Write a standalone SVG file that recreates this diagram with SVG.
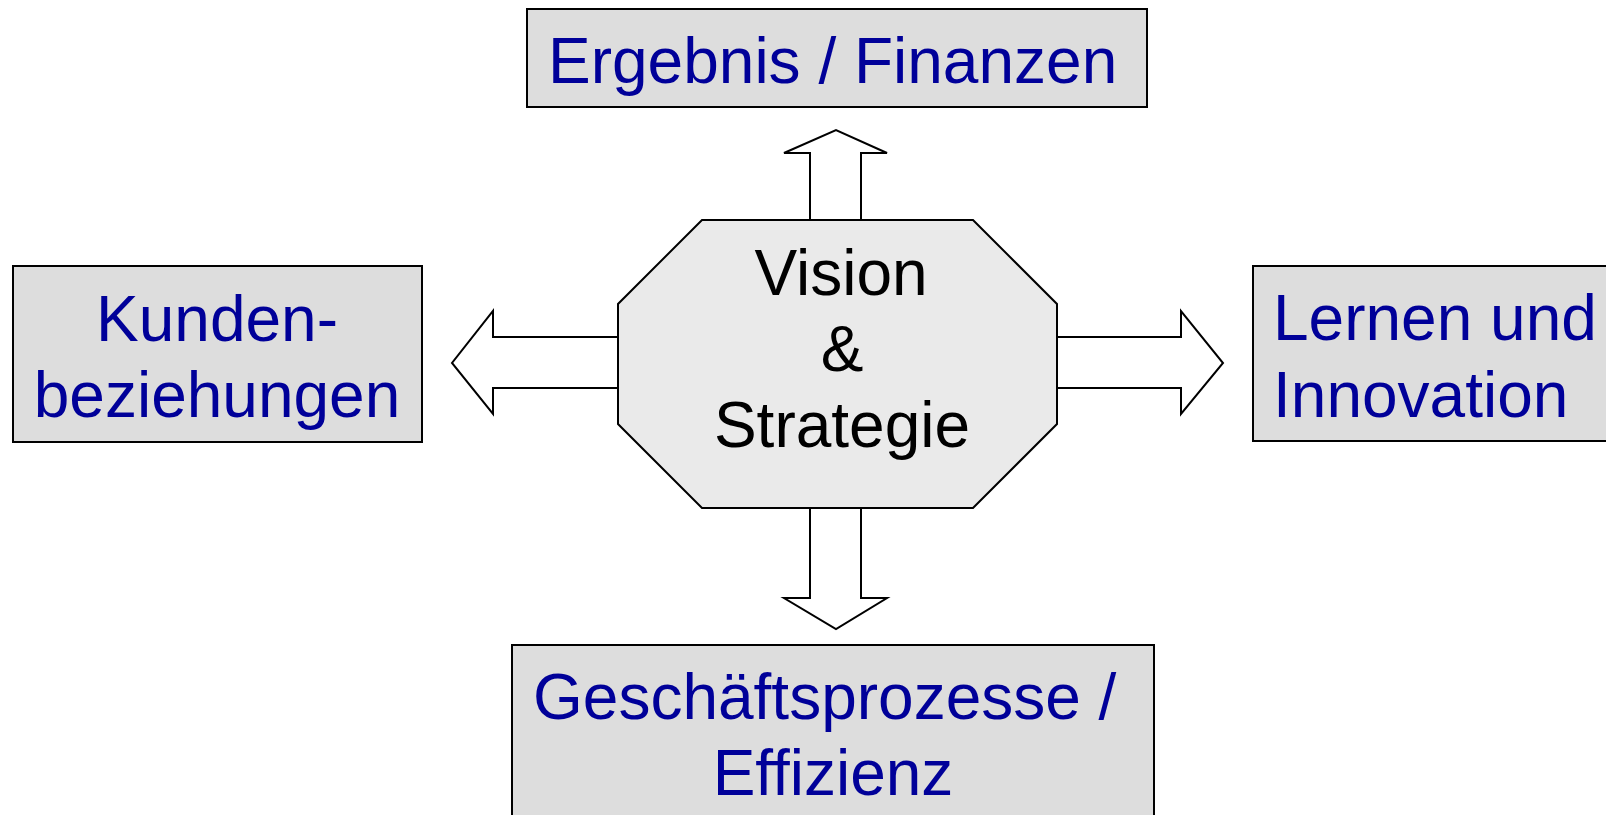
<svg xmlns="http://www.w3.org/2000/svg" width="1606" height="815" viewBox="0 0 1606 815">
<style>
.box{fill:#dddddd;stroke:#000;stroke-width:2}
.oct{fill:#eaeaea;stroke:#000;stroke-width:2}
.arr{fill:#fff;stroke:#000;stroke-width:2;stroke-linejoin:miter}
.t{font-family:"Liberation Sans",Arial,sans-serif;font-size:64px;fill:#000099}
.c{text-anchor:middle}
.k{font-family:"Liberation Sans",Arial,sans-serif;font-size:64px;fill:#000;text-anchor:middle}
</style>
<rect width="1606" height="815" fill="#fff"/>
<g id="connectors">
<polygon class="arr" points="810,220 810,153 784,153 836,130 887,153 861,153 861,220"/>
<polygon class="arr" points="810,508 810,598 784,598 836,629 887,598 861,598 861,508"/>
<polygon class="arr" points="618,337 493,337 493,311 452,363 493,414 493,388 618,388"/>
<polygon class="arr" points="1057,337 1181,337 1181,311 1223,363 1181,414 1181,388 1057,388"/>
</g>
<g id="center">
<polygon class="oct" points="702,220 973,220 1057,304 1057,424 973,508 702,508 618,424 618,304"/>
<text class="k" x="841" y="295">Vision</text>
<text class="k" x="842" y="371">&amp;</text>
<text class="k" x="842" y="447">Strategie</text>
</g>
<g id="finanzen">
<rect class="box" x="527" y="9" width="620" height="98"/>
<text class="t" x="548" y="83">Ergebnis / Finanzen</text>
</g>
<g id="kunden">
<rect class="box" x="13" y="266" width="409" height="176"/>
<text class="t c" x="217" y="341">Kunden-</text>
<text class="t c" x="217" y="417">beziehungen</text>
</g>
<g id="lernen">
<rect class="box" x="1253" y="266" width="380" height="175"/>
<text class="t" x="1273" y="340">Lernen und</text>
<text class="t" x="1273" y="417">Innovation</text>
</g>
<g id="prozesse">
<rect class="box" x="512" y="645" width="642" height="200"/>
<text class="t" x="533" y="719">Geschäftsprozesse /</text>
<text class="t c" x="833" y="795">Effizienz</text>
</g>
</svg>
